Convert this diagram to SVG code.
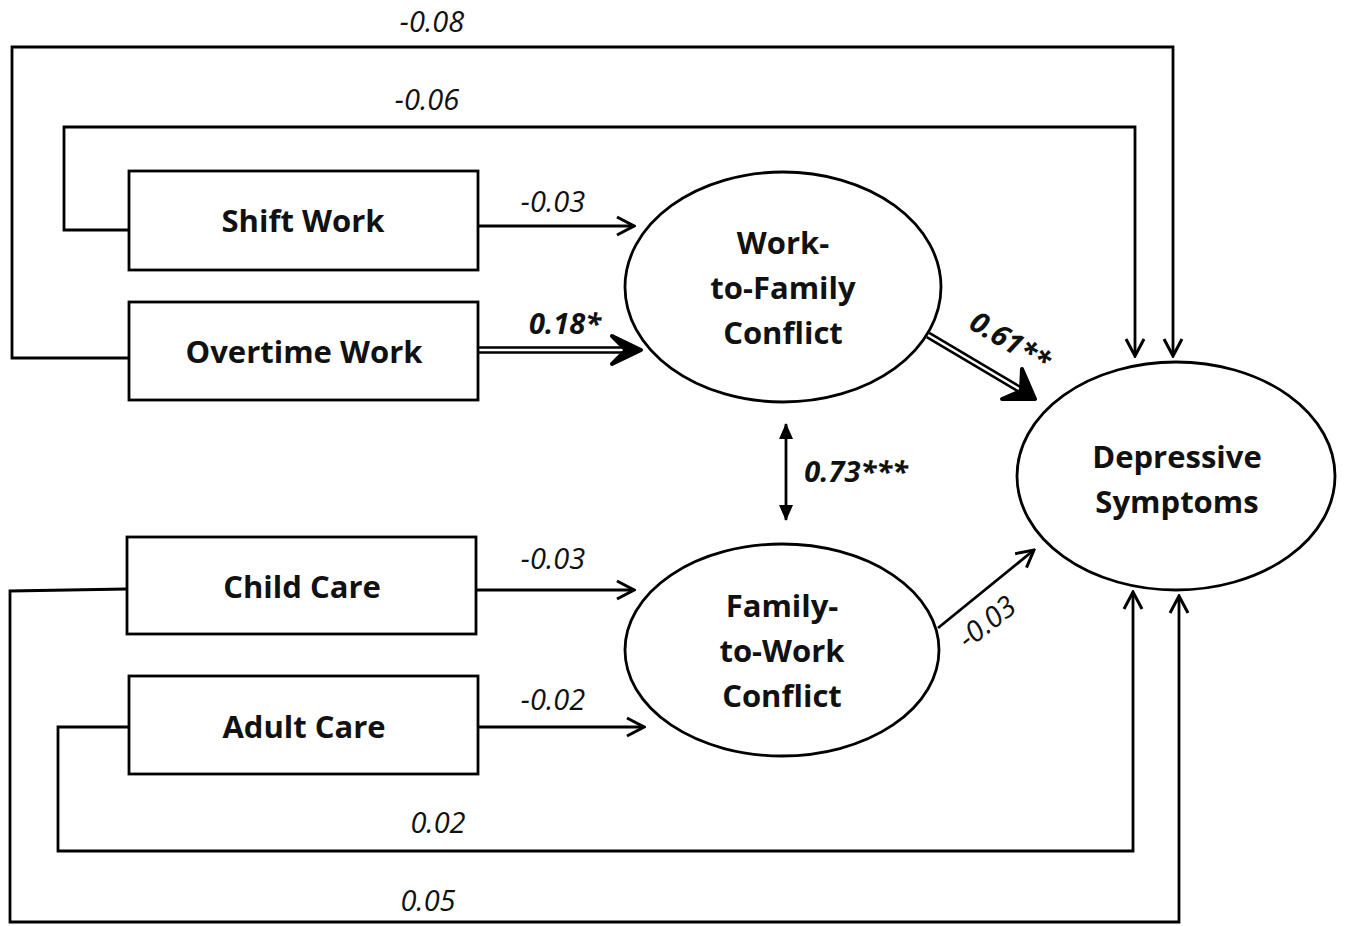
<svg xmlns="http://www.w3.org/2000/svg" width="1347" height="926" viewBox="0 0 1347 926">
  <style>
    .box { fill: #fff; stroke: #000; stroke-width: 2.8; }
    .ell { fill: #fff; stroke: #000; stroke-width: 2.8; }
    .node { font-family: "Open Sans", "Liberation Sans", sans-serif; font-weight: bold; font-size: 31px; fill: #111; text-anchor: middle; }
    .lbl { font-family: "Open Sans", "Liberation Sans", sans-serif; font-style: italic; font-size: 29px; fill: #111; text-anchor: middle; }
    .lblb { font-family: "Open Sans", "Liberation Sans", sans-serif; font-style: italic; font-weight: bold; font-size: 29px; fill: #111; text-anchor: middle; }
    .wire { fill: none; stroke: #000; stroke-width: 2.8; }
    .dblo { fill: none; stroke: #000; stroke-width: 7.5; }
    .dbli { fill: none; stroke: #fff; stroke-width: 2.4; }
    .bold-head { fill: #000; stroke: #000; stroke-width: 4; stroke-linejoin: round; }
  </style>
  <defs>
    <marker id="open" viewBox="0 0 22 22" refX="20" refY="11" markerWidth="22" markerHeight="22" markerUnits="userSpaceOnUse" orient="auto-start-reverse">
      <path d="M3,2 L20,11 L3,20" fill="none" stroke="#000" stroke-width="3"/>
    </marker>
    <marker id="tri" viewBox="0 0 16 16" refX="15" refY="8" markerWidth="16" markerHeight="16" markerUnits="userSpaceOnUse" orient="auto-start-reverse">
      <path d="M0,1 L16,8 L0,15 Z" fill="#000"/>
    </marker>
  </defs>
  <rect width="1347" height="926" fill="#fff"/>

  <g id="connectors">
    <!-- long feedback paths to Depressive Symptoms -->
    <path class="wire" d="M129,358 H12 V47 H1173 V356" marker-end="url(#open)"/>
    <path class="wire" d="M129,230 H64 V127 H1135 V356" marker-end="url(#open)"/>
    <path class="wire" d="M129,727 H58 V851 H1133 V592" marker-end="url(#open)"/>
    <path class="wire" d="M127,589 L10,591 V922 H1179 V596" marker-end="url(#open)"/>
    <!-- predictors to conflict factors -->
    <path class="wire" d="M479,226 H634" marker-end="url(#open)"/>
    <path class="wire" d="M477,590 H634" marker-end="url(#open)"/>
    <path class="wire" d="M479,727 H644" marker-end="url(#open)"/>
    <!-- significant paths (double line, heavy head) -->
    <path class="dblo" d="M479,350 H626"/>
    <path class="dbli" d="M479,350 H624"/>
    <path class="bold-head" d="M612,336 L641,350 L612,364 L626,350 Z"/>
    <path class="dblo" d="M928,335 L1024,392"/>
    <path class="dbli" d="M928,335 L1019,389"/>
    <path class="bold-head" d="M1022,369 L1035,399 L1002,399 L1021,391 Z"/>
    <!-- correlation between the two conflict factors -->
    <path class="wire" d="M786,424 V520" marker-start="url(#tri)" marker-end="url(#tri)"/>
    <!-- FWC to depression -->
    <path class="wire" d="M938,628 L1034,550" marker-end="url(#open)"/>
  </g>

  <g id="shift-work"><rect class="box" x="129" y="171" width="349" height="99"/><text class="node" x="303" y="232">Shift Work</text></g>
  <g id="overtime-work"><rect class="box" x="129" y="302" width="349" height="98"/><text class="node" x="304" y="363">Overtime Work</text></g>
  <g id="child-care"><rect class="box" x="127" y="537" width="349" height="97"/><text class="node" x="302" y="598">Child Care</text></g>
  <g id="adult-care"><rect class="box" x="129" y="676" width="349" height="98"/><text class="node" x="304" y="738">Adult Care</text></g>

  <g id="work-to-family">
    <ellipse class="ell" cx="783" cy="287" rx="158" ry="115"/>
    <text class="node" x="783" y="254">Work-</text>
    <text class="node" x="783" y="299">to-Family</text>
    <text class="node" x="783" y="344">Conflict</text>
  </g>
  <g id="family-to-work">
    <ellipse class="ell" cx="782" cy="650" rx="157" ry="106"/>
    <text class="node" x="782" y="617">Family-</text>
    <text class="node" x="782" y="662">to-Work</text>
    <text class="node" x="782" y="707">Conflict</text>
  </g>
  <g id="depressive-symptoms">
    <ellipse class="ell" cx="1176" cy="476" rx="159" ry="114"/>
    <text class="node" x="1177" y="468">Depressive</text>
    <text class="node" x="1177" y="513">Symptoms</text>
  </g>

  <g id="labels">
    <text class="lbl" x="432" y="32">-0.08</text>
    <text class="lbl" x="427" y="110">-0.06</text>
    <text class="lbl" x="553" y="212">-0.03</text>
    <text class="lblb" x="565" y="334">0.18*</text>
    <text class="lblb" transform="translate(1005,350) rotate(31)">0.61**</text>
    <text class="lblb" x="856" y="482">0.73***</text>
    <text class="lbl" x="553" y="569">-0.03</text>
    <text class="lbl" transform="translate(993,630) rotate(-38)">-0.03</text>
    <text class="lbl" x="553" y="710">-0.02</text>
    <text class="lbl" x="438" y="833">0.02</text>
    <text class="lbl" x="428" y="911">0.05</text>
  </g>
</svg>
